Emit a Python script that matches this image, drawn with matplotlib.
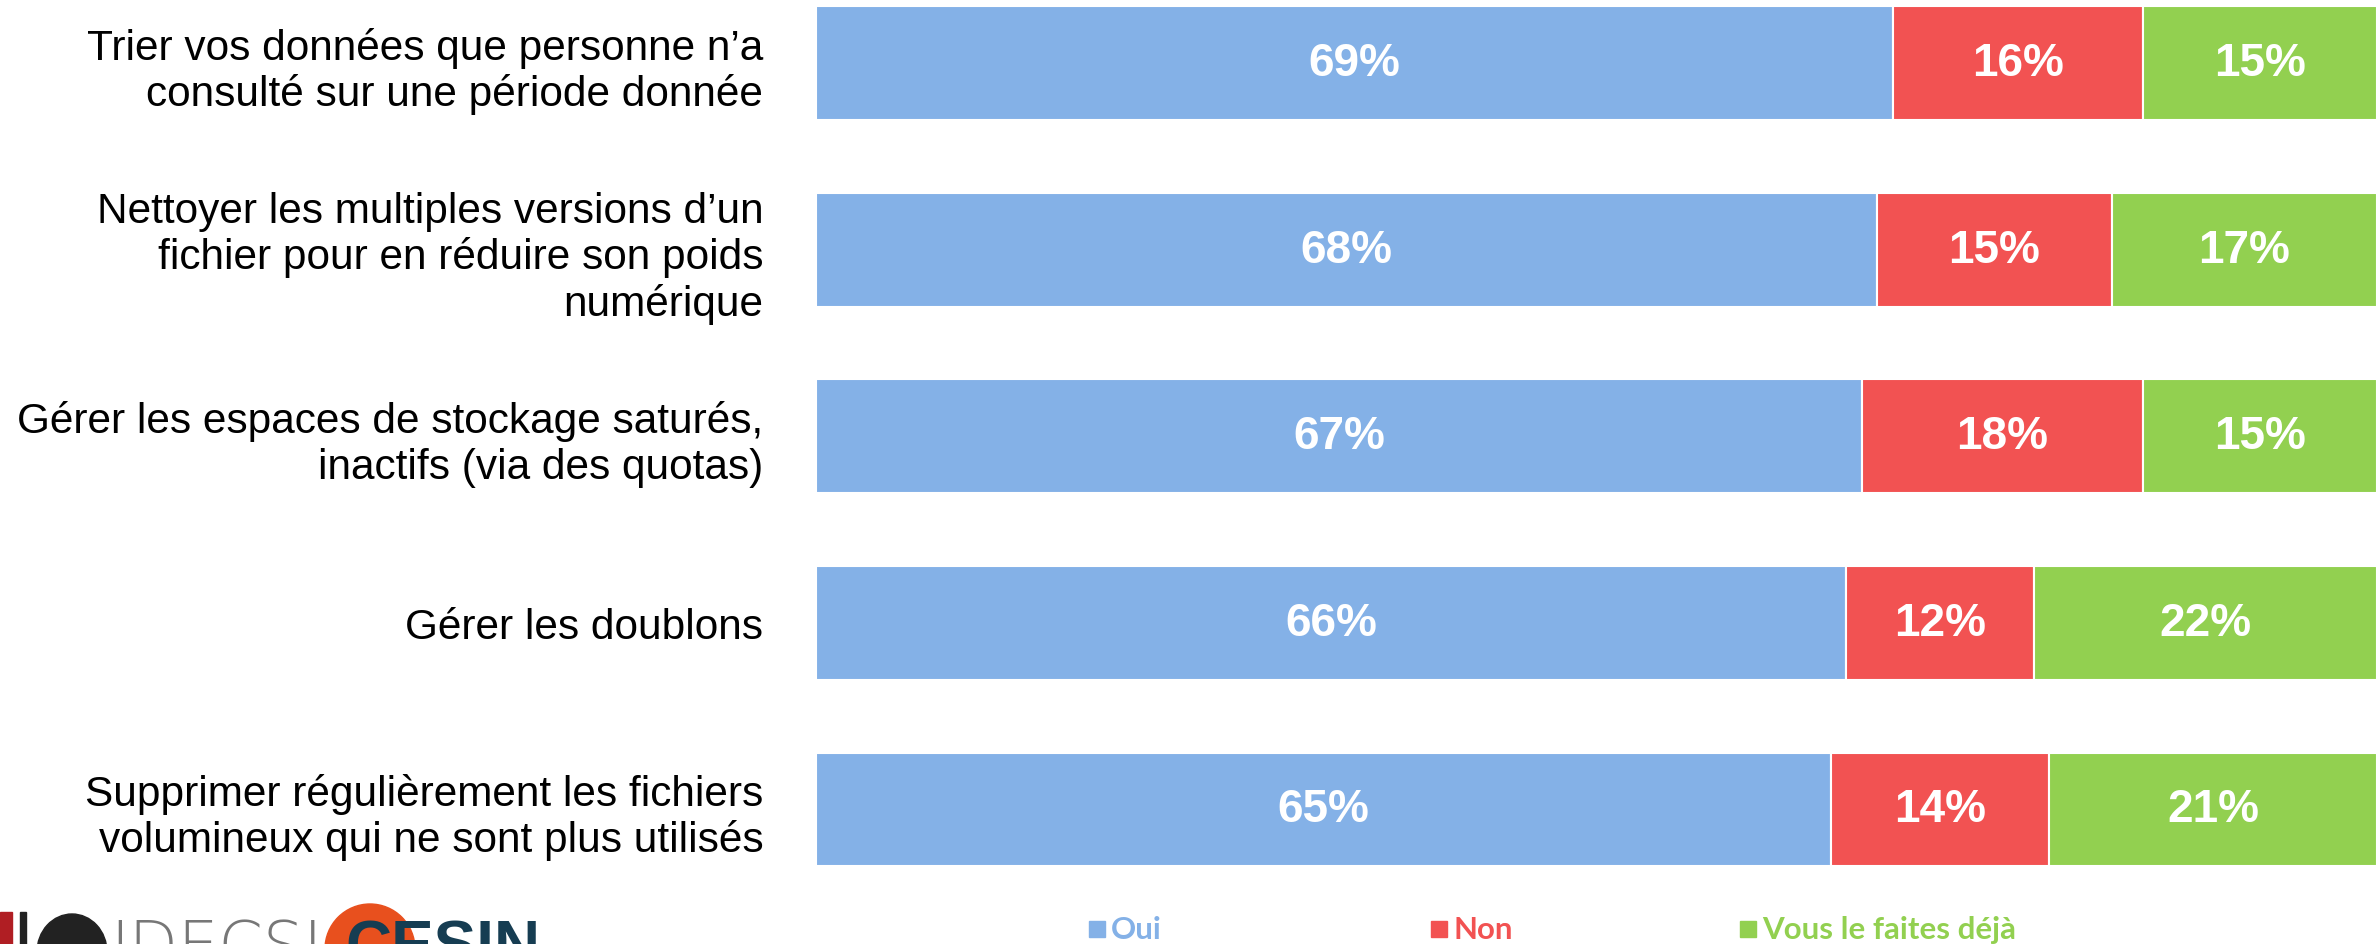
import numpy as np
import matplotlib
matplotlib.use('Agg')
import matplotlib.pyplot as plt
from matplotlib.patches import Rectangle, Ellipse

# data
labels = [
    "Trier vos données que personne n’a\nconsulté sur une période donnée",
    "Nettoyer les multiples versions d’un\nfichier pour en réduire son poids\nnumérique",
    "Gérer les espaces de stockage saturés,\ninactifs (via des quotas)",
    "Gérer les doublons",
    "Supprimer régulièrement les fichiers\nvolumineux qui ne sont plus utilisés",
]
oui = [69, 68, 67, 66, 65]
non = [16, 15, 18, 12, 14]
deja = [15, 17, 15, 22, 21]

series = [oui, non, deja]
names = ['Oui', 'Non', 'Vous le faites déjà']
colors = ['#84B1E7', '#F25252', '#92D050']

fig = plt.figure(figsize=(23.77, 9.45), dpi=100)
ax = fig.add_axes([0.3433, 0.0688, 0.6567, 0.9312])

y = np.arange(len(labels))
left = np.zeros(len(labels))
for vals, col in zip(series, colors):
    vals = np.array(vals)
    ax.barh(y, vals, left=left, height=0.61, color=col, edgecolor='white', linewidth=1.5)
    for yi, l, v in zip(y, left, vals):
        ax.text(l + v / 2, yi, '{}%'.format(v), ha='center', va='center',
                color='white', fontsize=33, fontweight='bold', family='Liberation Sans')
    left = left + vals

ax.set_xlim(0, 100)
ax.set_ylim(4.373, -0.345)
ax.set_yticks(y)
ax.set_yticklabels(labels, fontsize=30.5, family='Liberation Sans', linespacing=1.17)
ax.tick_params(axis='y', length=0, pad=38)
ax.set_xticks([])
for s in ax.spines.values():
    s.set_visible(False)

# legend, drawn by hand like the Excel one
leg_x = [1089, 1431, 1740]
W, H = 2377.0, 945.0
for xpx, name, col in zip(leg_x, names, colors):
    fig.patches.append(Rectangle((xpx / W, (H - 938) / H), 16 / W, 16 / H,
                                 transform=fig.transFigure, color=col))
    fig.text((xpx + 22) / W, (H - 939) / H, name, color=col, fontsize=22.5,
             fontweight='bold', family='Lato', va='baseline', ha='left')

# logos (cut at the bottom edge, as in the reference)
fig.patches.append(Rectangle((0, 0), 12 / W, 32 / H, transform=fig.transFigure, color='#B01E23'))
fig.patches.append(Rectangle((20 / W, 0), 6 / W, 32 / H, transform=fig.transFigure, color='#222222'))
fig.patches.append(Ellipse((72 / W, -8 / H), 70 / W, 76 / H, transform=fig.transFigure, color='#222222'))
fig.text(110 / W, -22 / H, 'IDECSI', color='#777777', fontsize=46, family='DejaVu Sans',
         fontweight='light')
fig.patches.append(Ellipse((370 / W, -5 / H), 90 / W, 90 / H, transform=fig.transFigure, color='#E8501E'))
fig.text(345 / W, -22 / H, 'CESIN', color='#163D52', fontsize=46, family='Liberation Sans',
         fontweight='bold')

fig.savefig('out.png', dpi=100)
